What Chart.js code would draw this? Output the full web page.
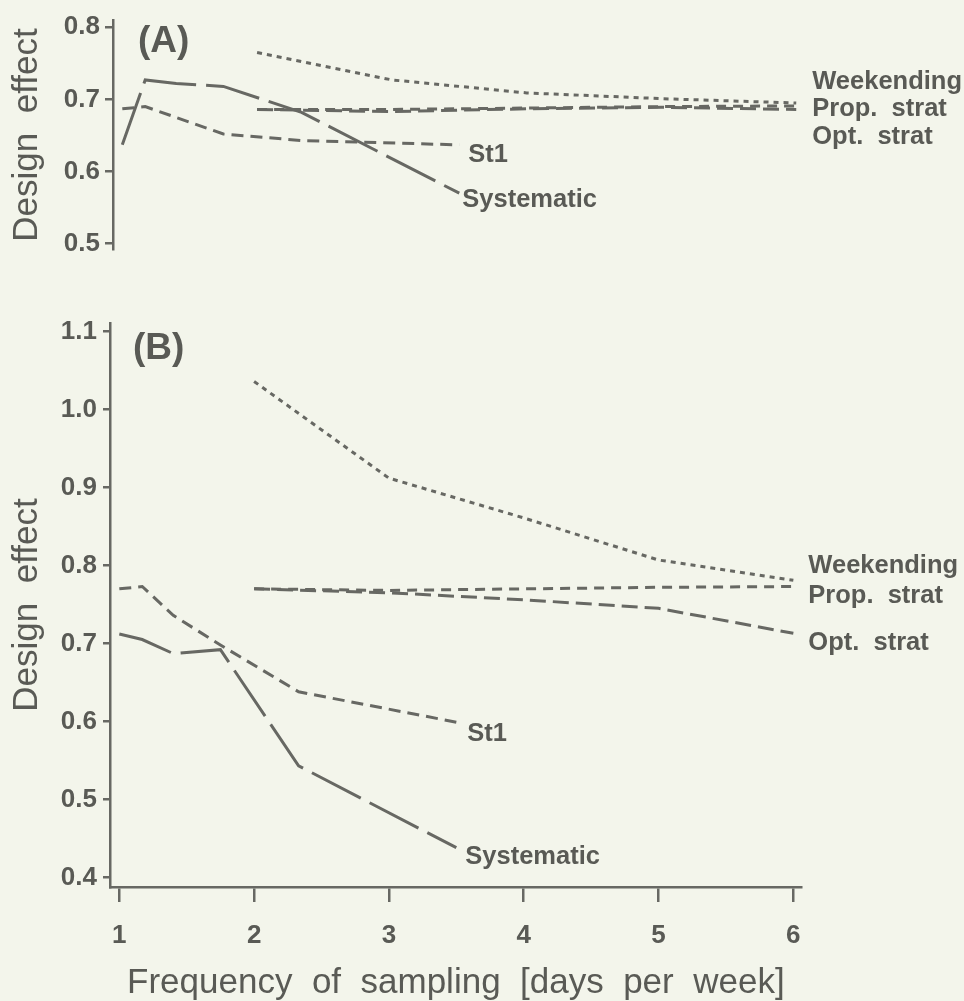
<!DOCTYPE html>
<html>
<head>
<meta charset="utf-8">
<script src="https://cdn.jsdelivr.net/npm/chart.js@4.4.1/dist/chart.umd.min.js"></script>
<style>
  html, body { margin: 0; padding: 0; background: #f3f5eb; }
  #wrap { position: relative; width: 964px; height: 1001px; }
  canvas { position: absolute; left: 0; }
  #chart_a { top: 0; }
  #chart_b { top: 270px; }
</style>
</head>
<body>
<div id="wrap">
  <canvas id="chart_a" width="964" height="270"></canvas>
  <canvas id="chart_b" width="964" height="731"></canvas>
</div>
<script>
// sampling frequency, days per week
var sysDays = [1, 1.17, 1.4, 1.75, 2.33, 3.5];
var stratDays = [2, 3, 4, 5, 6];
var xTicks = [1, 2, 3, 4, 5, 6];

// (A) design effects
var sysA = [0.637, 0.727, 0.722, 0.718, 0.682, 0.570];
var st1A = [0.687, 0.690, 0.675, 0.652, 0.643, 0.637];
var weekA = [0.765, 0.727, 0.709, 0.701, 0.695];
var propA = [0.686, 0.686, 0.688, 0.690, 0.691];
var optA = [0.686, 0.683, 0.687, 0.689, 0.686];
var yTicksA = [0.5, 0.6, 0.7, 0.8];

// (B) design effects
var sysB = [0.712, 0.705, 0.687, 0.692, 0.543, 0.438];
var st1B = [0.770, 0.773, 0.736, 0.698, 0.638, 0.599];
var weekB = [1.036, 0.912, 0.861, 0.807, 0.781];
var propB = [0.770, 0.768, 0.770, 0.772, 0.773];
var optB = [0.770, 0.765, 0.756, 0.745, 0.713];
var yTicksB = [0.4, 0.5, 0.6, 0.7, 0.8, 0.9, 1.0, 1.1];

var lineColor = '#676863';
var textColor = '#595a55';
var family = '"Liberation Sans", Arial, Helvetica, sans-serif';

function pts(xs, ys) {
    return ys.map(function(y, i) { return {x: xs[i], y: y}; });
}

function series(label, xs, ys, dash, off) {
    return {
        label: label,
        data: pts(xs, ys),
        borderColor: lineColor,
        borderWidth: 3,
        borderDash: dash,
        pointRadius: 0,
        tension: 0,
        fill: false,
        labelOffset: off
    };
}

// writes the series names next to the line ends, and the panel letter
var endLabels = {
    id: 'endLabels',
    afterDatasetsDraw: function(chart, args, opts) {
        var ctx = chart.ctx;
        ctx.save();
        ctx.fillStyle = textColor;
        ctx.font = 'bold 25.5px ' + family;
        ctx.textAlign = 'left';
        ctx.textBaseline = 'alphabetic';
        chart.data.datasets.forEach(function(ds, i) {
            var p = chart.getDatasetMeta(i).data;
            var last = p[p.length - 1];
            ctx.fillText(ds.label, last.x + ds.labelOffset[0], last.y + ds.labelOffset[1]);
        });
        ctx.font = 'bold 37px ' + family;
        ctx.textBaseline = 'middle';
        var a = chart.chartArea;
        ctx.fillText(opts.panel, a.left + opts.dx, a.top + opts.dy);
        ctx.restore();
    }
};

function yAxis(min, max, ticks, width, tickLen, pad) {
    return {
        type: 'linear',
        min: min,
        max: max,
        afterBuildTicks: function(s) { s.ticks = ticks.map(function(v) { return {value: v}; }); },
        afterFit: function(s) { s.width = width; },
        border: { display: true, color: lineColor, width: 2.5 },
        grid: { drawOnChartArea: false, drawTicks: true, tickLength: tickLen, color: lineColor, lineWidth: 2.5 },
        ticks: {
            color: textColor,
            padding: pad,
            font: { family: family, size: 26, weight: 'bold' },
            callback: function(v) { return v.toFixed(1); }
        },
        title: {
            display: true,
            text: 'Design  effect',
            color: textColor,
            font: { family: family, size: 35 },
            padding: { top: 6, bottom: 0 }
        }
    };
}

var chart_a = new Chart(document.getElementById('chart_a'), {
    type: 'line',
    data: {
        datasets: [
            series('Weekending', stratDays, weekA, [5, 5], [16, -14]),
            series('Prop.  strat', stratDays, propA, [10, 7], [16, 10]),
            series('Opt.  strat', stratDays, optA, [16, 7], [16, 35]),
            series('St1', sysDays, st1A, [12, 7], [9, 17]),
            series('Systematic', sysDays, sysA, [55, 10], [3, 14])
        ]
    },
    plugins: [endLabels],
    options: {
        responsive: false,
        animation: false,
        events: [],
        layout: { padding: { top: 18, bottom: 12, left: 0, right: 159.4 } },
        scales: {
            x: { type: 'linear', min: 0.931, max: 6.062, display: false },
            y: yAxis(0.4921, 0.8092, yTicksA, 113, 8, 5)
        },
        plugins: {
            legend: { display: false },
            tooltip: { enabled: false },
            endLabels: { panel: '(A)', dx: 25, dy: 21 }
        }
    }
});

var chart_b = new Chart(document.getElementById('chart_b'), {
    type: 'line',
    data: {
        datasets: [
            series('Weekending', stratDays, weekB, [5, 5], [15, -7]),
            series('Prop.  strat', stratDays, propB, [10, 7], [15, 16]),
            series('Opt.  strat', stratDays, optB, [16, 7], [15, 17]),
            series('St1', sysDays, st1B, [12, 7], [11, 19]),
            series('Systematic', sysDays, sysB, [55, 10], [9, 16])
        ]
    },
    plugins: [endLabels],
    options: {
        responsive: false,
        animation: false,
        events: [],
        layout: { padding: { top: 53, bottom: 0, left: 0, right: 162.3 } },
        scales: {
            x: {
                type: 'linear',
                min: 0.931,
                max: 6.062,
                afterBuildTicks: function(s) { s.ticks = xTicks.map(function(v) { return {value: v}; }); },
                afterFit: function(s) { s.height = 114; },
                border: { display: true, color: lineColor, width: 2.5 },
                grid: { drawOnChartArea: false, drawTicks: true, tickLength: 15, color: lineColor, lineWidth: 2.5 },
                ticks: {
                    color: textColor,
                    padding: 18,
                    maxRotation: 0,
                    font: { family: family, size: 26, weight: 'bold' }
                },
                title: {
                    display: true,
                    text: 'Frequency  of  sampling  [days  per  week]',
                    color: textColor,
                    font: { family: family, size: 35 },
                    padding: { top: 0, bottom: -3 }
                }
            },
            y: yAxis(0.3876, 1.111, yTicksB, 110, 7, 6)
        },
        plugins: {
            legend: { display: false },
            tooltip: { enabled: false },
            endLabels: { panel: '(B)', dx: 23, dy: 26 }
        }
    }
});
</script>
</body>
</html>
